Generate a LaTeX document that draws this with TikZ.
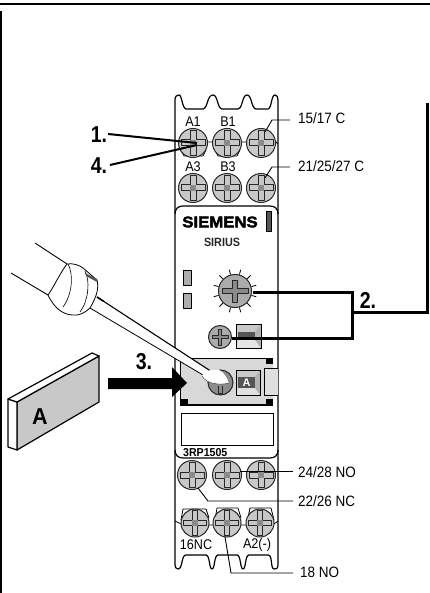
\documentclass[tikz,border=0pt]{standalone}
\usepackage{fontspec}
\setmainfont{Liberation Sans}
\newfontfamily\brandfont[BoldFeatures={FakeBold=2.5}]{Liberation Sans}
\definecolor{facegray}{HTML}{C8C8C8}
\definecolor{slotgray}{HTML}{8A8A8A}
\definecolor{dkgray}{HTML}{555555}
\newcommand{\screwhead}[4]{% name, x, y, r
  \node[screwbody,minimum size=#4*2pt] (#1) at (#2,#3) {};
  \begin{scope}[shift={(#2,#3)},scale=#4/14.5]
    \draw[slotline] (-3,-12.5)--(3,-12.5)--(3,-3)--(12,-3)--(12,3)--(3,3)--(3,12.5)--(-3,12.5)--(-3,3)--(-12,3)--(-12,-3)--(-3,-3)--cycle;
    \fill[slotgray] (-3,-3) rectangle (3,3);
  \end{scope}}
\tikzset{
  x=1pt,y=-1pt,
  screwbody/.style={circle,draw=black!85,line width=1pt,fill=facegray,inner sep=0pt,outer sep=0pt},
  slotline/.style={draw=black!85,line width=1pt,line join=round},
  outline/.style={draw=black,line width=1.2pt,line join=round},
  thin line/.style={draw=black,line width=.8pt,line join=round},
  leader/.style={draw=black,line width=.9pt},
  heavy/.style={draw=black,line width=3pt,line join=miter},
  lab/.style={font=\fontsize{15}{15}\selectfont,xscale=.9,transform shape,inner sep=0pt,anchor=west},
  tlab/.style={font=\fontsize{14}{14}\selectfont,xscale=.9,transform shape,inner sep=0pt},
  step label/.style={font=\bfseries\fontsize{23}{23}\selectfont,xscale=.85,transform shape,inner sep=0pt},
}
\begin{document}
\begin{tikzpicture}
\useasboundingbox (0,0) rectangle (430,593);
\fill[white] (0,0) rectangle (430,593);
% page frame
\fill[black] (0,2.7) rectangle (430,5);
\fill[black] (0,11) rectangle (2,593);
% relay housing
\draw[outline,fill=white] (175,197) -- (175,100) .. controls (175,96) and (177,95) .. (179,95)
  .. controls (182,95) and (182,108) .. (186,109) -- (203,109)
  .. controls (208,108) and (207,95) .. (213,95) .. controls (218,95) and (217,108) .. (222,109) -- (238,109)
  .. controls (243,108) and (242,95) .. (247,95) .. controls (252,95) and (251,108) .. (256,109) -- (268,109)
  .. controls (272,108) and (271,95) .. (275,95) .. controls (277,95) and (278,97) .. (278,100)
  -- (278,565) .. controls (278,568) and (276,570) .. (274,569)
  .. controls (270,568) and (273,555) .. (268,555) -- (249,555)
  .. controls (245,555) and (246,569) .. (243,569) .. controls (240,569) and (241,555) .. (237,555) -- (218,555)
  .. controls (214,555) and (215,569) .. (212,569) .. controls (209,569) and (210,555) .. (206,555) -- (186,555)
  .. controls (181,555) and (183,569) .. (178,569) .. controls (176,569) and (175,567) .. (175,565) -- cycle;
% front panel
\draw[outline] (175,214) .. controls (175,209) and (178,206) .. (183,206) -- (270,206) .. controls (275,206) and (278,209) .. (278,214);
\draw[outline] (175,450) .. controls (175,455) and (178,458) .. (183,458) -- (270,458) .. controls (275,458) and (278,455) .. (278,450);
% top terminal bands
\draw[thin line] (207,142)--(213,142) (241,142)--(247,142) (275,141)--(278,144);
\draw[thin line] (181,150)--(184,156)--(203,156)--(206,150) (215,150)--(218,156)--(237,156)--(240,150);
% bottom terminal caps
\draw[thin line] (181,520)--(183,509)--(206,509)--(209,518) (215,520)--(217,508)--(238,508)--(241,518) (248,518)--(250,508)--(271,508)--(274,520);
\draw[thin line] (175,521)--(181,524) (209,525)--(213,525) (241,525)--(246,525) (274,524)--(278,521);
% screws
\screwhead{sa}{193}{143}{14.5}
\screwhead{sb}{227}{143}{14.5}
\screwhead{sc}{261}{143}{14.5}
\screwhead{sd}{193}{188}{14.5}
\screwhead{se}{227}{188}{14.5}
\screwhead{sf}{261}{188}{14.5}
\screwhead{sg}{192}{475}{14.5}
\screwhead{sh}{227}{475}{14.5}
\screwhead{si}{261}{475}{14.5}
\screwhead{sj}{195}{523}{14}
\screwhead{sk}{227}{523}{14}
\screwhead{sl}{260}{523}{14}
% terminal labels
\node[tlab] (ta1) at (193,122) {A1};
\node[tlab] (tb1) at (228,122) {B1};
\node[tlab] (ta3) at (193,167) {A3};
\node[tlab] (tb3) at (228,167) {B3};
\node[tlab] (t16) at (196,545) {16NC};
\node[tlab] (ta2) at (257,545) {A2(-)};
% brand
\node[font=\brandfont\bfseries\fontsize{15.5}{15.5}\selectfont,inner sep=0pt,xscale=1.08,transform shape] (brand) at (220,222) {SIEMENS};
\node[font=\bfseries\fontsize{12}{12}\selectfont,inner sep=0pt,xscale=.9,transform shape,text=black!85] (model) at (222,242) {SIRIUS};
\draw[thin line,fill=dkgray] (266,211) rectangle (271,231);
\draw[thin line,fill=slotgray!70] (183,270) rectangle (191,285);
\draw[thin line,fill=slotgray!70] (183,293) rectangle (191,308);
% dial
\foreach \a in {15,45,...,345} \draw[line width=.8pt] (235,291) ++(\a:17pt) -- ++(\a:5pt);
\node[screwbody,fill=black!33,minimum size=33pt] (dial) at (235,291) {};
\draw[slotline,fill=slotgray] (222,288.5) -- (232.5,288.5) -- (232.5,280) -- (237.5,280) -- (237.5,288.5) -- (248,288.5) -- (248,293.5) -- (237.5,293.5) -- (237.5,302) -- (232.5,302) -- (232.5,293.5) -- (222,293.5) -- cycle;
% small screw and adjuster
\node[screwbody,fill=black!33,minimum size=23pt] (small) at (220,337) {};
\draw[slotline,fill=slotgray] (212,335.5) -- (218.5,335.5) -- (218.5,329) -- (221.5,329) -- (221.5,335.5) -- (228,335.5) -- (228,338.5) -- (221.5,338.5) -- (221.5,345) -- (218.5,345) -- (218.5,338.5) -- (212,338.5) -- cycle;
\draw[thin line,fill=facegray] (236,324) rectangle (261,348);
\fill[black!10] (238,340) -- (255,340) -- (261,348) -- (236,348) -- cycle;
\fill[black!30] (255,332) -- (261,324) -- (261,348) -- (255,340) -- cycle;
\fill[dkgray] (238,332) rectangle (255,340);
\draw[thin line] (236,324) rectangle (261,348);
% cover plate
\fill[facegray!70] (180,358) rectangle (273,405);
\draw[line width=.8pt] (180,405) -- (180,358) -- (273,358);
\draw[line width=1.6pt] (180,405) -- (273,405);
\fill[black] (180,399) rectangle (188,406);
\fill[black] (266,358) rectangle (273,364);
\fill[black] (266,399) rectangle (273,406);
\draw[thin line,fill=black!12] (278,368) -- (264,368) -- (264,395) -- (278,395);
\node[screwbody,fill=black!45,minimum size=25pt] (cov) at (220.5,382.5) {};
\draw[slotline] (218.5,386) -- (218.5,393) -- (222.5,393) -- (222.5,386);
% A window
\draw[thin line,fill=facegray] (236,370) rectangle (260,395);
\fill[black!12] (238,388) -- (255,388) -- (260,395) -- (236,395) -- cycle;
\fill[black!30] (255,377) -- (260,370) -- (260,395) -- (255,388) -- cycle;
\fill[dkgray] (238,377) rectangle (255,388);
\draw[thin line] (236,370) rectangle (260,395);
\node[font=\bfseries\fontsize{11}{11}\selectfont,inner sep=0pt,text=white] (awin) at (246.5,382.5) {A};
% label field
\draw[line width=1pt] (181,413) rectangle (273,445);
\node[font=\bfseries\fontsize{11.5}{11.5}\selectfont,inner sep=0pt,anchor=west,xscale=.92,transform shape] (type) at (183,452.5) {3RP1505};
% screwdriver
\fill[white] (97,297) -- (228,382) -- (203,375) -- (90,308) -- cycle;
\draw[line width=1.1pt] (97,297) -- (229,383);
\draw[line width=.8pt] (90,308) -- (203,375);
\draw[line width=1.5pt] (97,297) -- (104,301.5);
\fill[white] (202,376) .. controls (203,371) and (212,369) .. (219,370) .. controls (224,372) and (227,378) .. (229,383)
  .. controls (222,385) and (207,385) .. (202,376) -- cycle;
\draw[line width=.5pt,black!70] (202,376) .. controls (207,385) and (222,385) .. (229,383);
\draw[thin line,fill=white] (67,264) .. controls (73,263) and (79,265) .. (83,268) -- (97,280)
  .. controls (99,288) and (97,296) .. (90,308) .. controls (85,313) and (78,316) .. (73,315)
  .. controls (65,315) and (55,310) .. (48,295) .. controls (55,285) and (60,273) .. (67,264) -- cycle;
\draw[line width=.9pt] (35,243) -- (67,264) (11,273) -- (48,295);
\draw[line width=.6pt] (68,264) .. controls (74,275) and (72,295) .. (63,307);
\draw[line width=.6pt] (85,271) .. controls (90,280) and (89,300) .. (80,312);
\fill[dkgray] (85,273) -- (97,279) -- (97,282) -- (86,276) -- cycle;
% card A
\draw[outline,fill=facegray] (17,402) -- (99,356) -- (99,402) -- (17,450) -- cycle;
\draw[outline,fill=white] (8,399) -- (17,402) -- (17,450) -- (8,447) -- cycle;
\draw[outline,fill=white] (8,399) -- (92,353) -- (99,356) -- (17,402) -- cycle;
\node[step label,xscale=1.1] (carda) at (40,417) {A};
% arrow
\fill[black] (108,378) -- (172,378) -- (172,367) -- (187,383) -- (172,397) -- (172,389) -- (108,389) -- cycle;
% step labels
\node[step label] (n1) at (99,135) {1.};
\node[step label] (n4) at (99,166) {4.};
\node[step label] (n2) at (368,300) {2.};
\node[step label] (n3) at (144,362) {3.};
% step connectors
\coordinate (from1) at (108,134);
\coordinate (from4) at (110,165);
\coordinate (to14) at (197,143);
\coordinate (to14b) at (197,145);
\draw[black,line width=2pt] (from1) -- (to14);
\draw[black,line width=2pt] (from4) -- (to14b);
% adjustment bracket
\coordinate (dialend) at (253,292);
\coordinate (smallend) at (232,338);
\coordinate (corner1) at (352,292);
\coordinate (corner2) at (352,338);
\coordinate (join) at (352,312);
\coordinate (frameb) at (427,312);
\coordinate (framet) at (427,103);
\draw[heavy] (dialend) -- (corner1) -- (corner2) -- (smallend);
\draw[heavy] (join) -- (frameb) -- (framet);
% terminal leaders
\node[lab] (l1) at (298,118) {15/17 C};
\node[lab] (l2) at (298,166) {21/25/27 C};
\node[lab] (l3) at (298,472) {24/28 NO};
\node[lab] (l4) at (298,501) {22/26 NC};
\node[lab] (l5) at (300,572) {18 NO};
\coordinate (p1a) at (265,132); \coordinate (p1b) at (272,120); \coordinate (p1c) at (290,120);
\coordinate (p2a) at (265,178); \coordinate (p2b) at (272,167); \coordinate (p2c) at (290,167);
\coordinate (p3a) at (240,471); \coordinate (p3c) at (293,471);
\coordinate (p4a) at (198,488); \coordinate (p4b) at (208,501); \coordinate (p4c) at (293,501);
\coordinate (p5a) at (225,537); \coordinate (p5b) at (231,573); \coordinate (p5c) at (293,573);
\draw[leader] (p1a) -- (p1b) -- (p1c);
\draw[leader] (p2a) -- (p2b) -- (p2c);
\draw[leader] (p3a) -- (p3c);
\draw[leader] (p4a) -- (p4b) -- (p4c);
\draw[leader] (p5a) -- (p5b) -- (p5c);
\end{tikzpicture}
\end{document}
